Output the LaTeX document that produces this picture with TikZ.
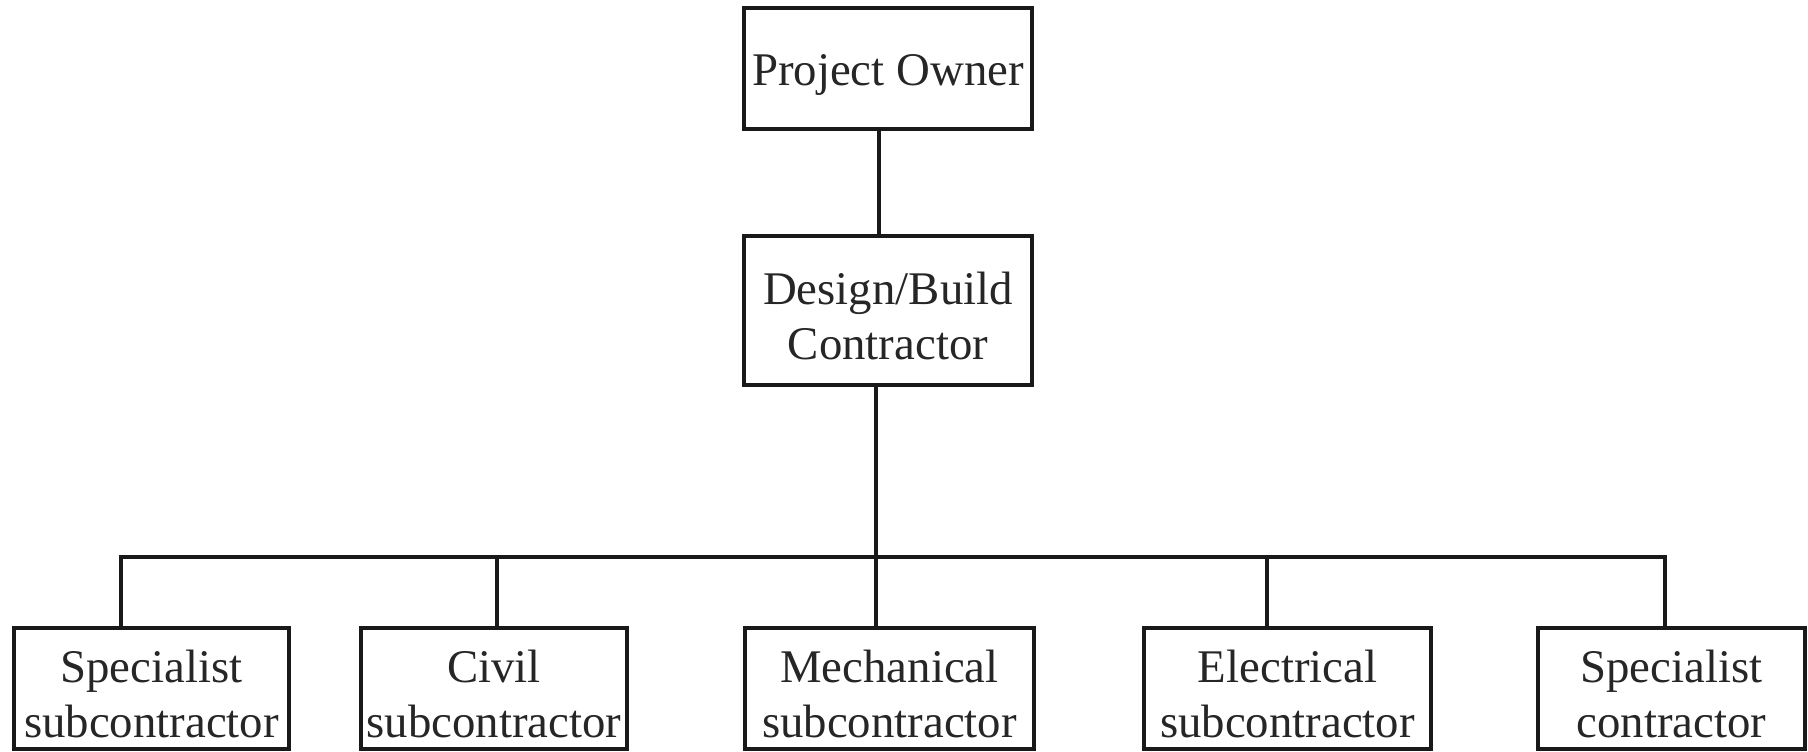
\documentclass[tikz,border=0pt]{standalone}
\usepackage{fontspec}
\setmainfont{Liberation Serif}
\newcommand{\mystrut}{\rule{0pt}{22pt}}
\begin{document}
\begin{tikzpicture}[x=0.5pt,y=-0.5pt,
  box/.style={draw=black!90,line width=2pt,rectangle,inner sep=0pt,align=center,
    font=\fontsize{23.4pt}{27.5pt}\selectfont,text=black!85},
  conn/.style={draw=black!90,line width=1.8pt}]
\useasboundingbox (0,0) rectangle (1808,751);
\node[box,minimum width=144pt,minimum height=60.5pt] (po) at (888,68.5) {\mystrut Project Owner};
\node[box,minimum width=144pt,minimum height=74.5pt] (dbc) at (888,310.5) {\mystrut Design/Build\\Contractor};
\node[box,minimum width=137.5pt,minimum height=60.5pt] (s1) at (151.5,688.5) {\mystrut Specialist\\subcontractor};
\node[box,minimum width=133pt,minimum height=60.5pt] (s2) at (494,688.5) {\mystrut Civil\\subcontractor};
\node[box,minimum width=144.5pt,minimum height=60.5pt] (s3) at (889.5,688.5) {\mystrut Mechanical\\subcontractor};
\node[box,minimum width=143.5pt,minimum height=60.5pt] (s4) at (1287.5,688.5) {\mystrut Electrical\\subcontractor};
\node[box,minimum width=133.5pt,minimum height=60.5pt] (s5) at (1671.5,688.5) {\mystrut Specialist\\contractor};
\coordinate (top) at (879,0);
\coordinate (mid) at (876,0);
\coordinate (b1) at (121,557);
\coordinate (b2) at (497,557);
\coordinate (b3) at (876,557);
\coordinate (b4) at (1267,557);
\coordinate (b5) at (1665,557);
\draw[conn,line width=2.2pt] (top |- po.south) -- (top |- dbc.north);
\draw[conn] (mid |- dbc.south) -- (b3);
\draw[conn,line width=2.4pt,line cap=rect] (b1) -- (b5);
\draw[conn] (b1) -- (b1 |- s1.north);
\draw[conn] (b2) -- (b2 |- s2.north);
\draw[conn] (b3) -- (b3 |- s3.north);
\draw[conn] (b4) -- (b4 |- s4.north);
\draw[conn] (b5) -- (b5 |- s5.north);
\end{tikzpicture}
\end{document}
